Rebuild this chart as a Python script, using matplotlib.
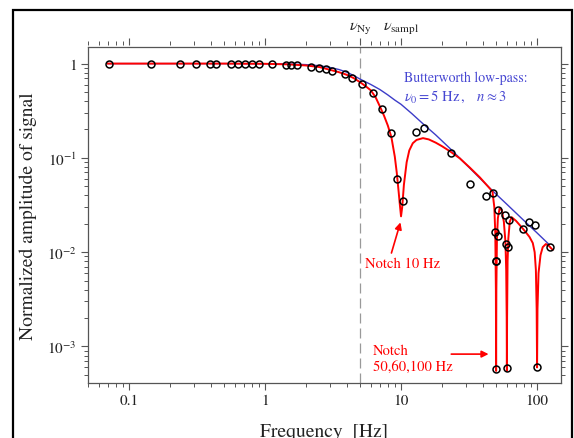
import numpy as np
import matplotlib
matplotlib.use('Agg')
import matplotlib.pyplot as plt
from matplotlib.patches import Rectangle

plt.rcParams['font.family'] = 'STIXGeneral'
plt.rcParams['mathtext.fontset'] = 'stix'

# == measured points (frequency in Hz, normalized amplitude) ==
freq_pts = [0.0714, 0.146, 0.236, 0.313, 0.397, 0.434, 0.560, 0.634, 0.713, 0.803,
            0.904, 1.126, 1.42, 1.56, 1.72, 2.17, 2.48, 2.79, 3.13, 3.90,
            4.39, 5.14, 6.22, 7.24, 8.39, 9.40, 10.4, 12.8, 14.7, 23.3,
            32.1, 42.4, 47.7, 49.0, 49.6, 49.6, 50.2, 51.3, 51.9, 58.0,
            59.4, 60.4, 61.4, 62.0, 78.2, 86.6, 95.9, 100.0, 125.0]
amp_pts = [1.0, 1.0, 1.0, 1.0, 1.0, 1.0, 1.0, 1.0, 1.0, 1.0,
           1.0, 0.985, 0.965, 0.96, 0.96, 0.929, 0.898, 0.877, 0.834, 0.769,
           0.710, 0.613, 0.483, 0.332, 0.185, 0.060, 0.035, 0.187, 0.209, 0.113,
           0.0524, 0.0397, 0.0425, 0.0162, 0.0080, 0.00058, 0.0080, 0.0147, 0.0282, 0.0245,
           0.0123, 0.00059, 0.0113, 0.0221, 0.0178, 0.0211, 0.0195, 0.00061, 0.0113]

# == filter model with notches (red) ==
red_f = [0.07, 0.5, 1.0, 1.5, 2.0, 2.5, 3.0, 3.5, 4.0, 4.5,
         5.0, 5.5, 6.0, 6.5, 7.0, 7.5, 8.0, 8.5, 9.0, 9.3,
         9.6, 9.8, 10.0, 10.2, 10.5, 11.0, 11.5, 12.2, 13.0, 14.5,
         16.0, 18.0, 20.0, 23.0, 27.0, 32.0, 38.0, 44.0, 47.0, 48.5,
         49.3, 49.8, 50.0, 50.2, 50.7, 51.5, 53.0, 55.0, 57.0, 58.5,
         59.3, 59.8, 60.0, 60.2, 60.7, 61.5, 63.0, 65.0, 70.0, 76.0,
         82.0, 88.0, 93.0, 96.0, 98.0, 99.3, 100.0, 100.7, 102.5, 106.0,
         110.0, 116.0, 122.0, 130.0]
red_a = [1.0, 1.0, 0.995, 0.98, 0.955, 0.92, 0.86, 0.81, 0.76, 0.70,
         0.635, 0.575, 0.52, 0.44, 0.35, 0.28, 0.22, 0.165, 0.103, 0.070,
         0.044, 0.032, 0.024, 0.030, 0.052, 0.090, 0.120, 0.143, 0.155, 0.162,
         0.157, 0.145, 0.133, 0.117, 0.099, 0.079, 0.062, 0.049, 0.044, 0.030,
         0.016, 0.004, 0.00055, 0.004, 0.014, 0.023, 0.029, 0.028, 0.021, 0.013,
         0.0065, 0.002, 0.00055, 0.002, 0.008, 0.014, 0.021, 0.0235, 0.0215, 0.0188,
         0.0165, 0.0145, 0.0125, 0.010, 0.0065, 0.0025, 0.0006, 0.0025, 0.006, 0.0093,
         0.0113, 0.0122, 0.0117, 0.0106]

# == Butterworth curve (blue) ==
blue_f = [0.07, 0.5, 1.0, 1.5, 2.0, 2.5, 3.0, 3.5, 4.0, 4.5,
          5.0, 6.0, 7.0, 8.0, 9.0, 10.0, 12.0, 14.7, 18.0, 23.3,
          30.0, 38.0, 47.5, 60.0, 81.0, 100.0, 123.0]
blue_a = [1.0, 1.0, 0.997, 0.99, 0.975, 0.95, 0.91, 0.865, 0.81, 0.745,
          0.685, 0.60, 0.53, 0.465, 0.41, 0.37, 0.295, 0.226, 0.175, 0.123,
          0.0855, 0.0608, 0.0442, 0.0322, 0.0213, 0.0160, 0.0120]

xticks = [0.1, 1, 10, 100]
xtick_labels = ['0.1', '1', '10', '100']
yticks = [1, 1e-1, 1e-2, 1e-3]
ytick_labels = ['1', r'$10^{-1}$', r'$10^{-2}$', r'$10^{-3}$']
top_ticks = [0.1, 1, 5, 10, 100]
top_labels = ['', '', r'$\nu_{\rm Ny}$', r'$\nu_{\rm sampl}$', '']

spine_col = '#555555'
blue_txt = '#4646d2'

fig = plt.figure(figsize=(5.74, 4.39), dpi=100)
ax = fig.add_axes([0.1533, 0.1253, 0.8241, 0.7654])

ax.axvline(5, color='#999999', lw=0.9, ls=(0, (8, 4)), zorder=1)
ax.plot(blue_f, blue_a, color='#3c3cc8', lw=1.0, zorder=2)
ax.plot(red_f, red_a, color='red', lw=1.4, zorder=3)
ax.plot(freq_pts, amp_pts, 'o', mfc='none', mec='black', mew=1.1, ms=5, zorder=4)

ax.set_xscale('log')
ax.set_yscale('log')
ax.set_xlim(0.05, 150)
ax.set_ylim(4.1e-4, 1.5)
ax.set_xticks(xticks, xtick_labels)
ax.set_yticks(yticks, ytick_labels)
ax.tick_params(which='both', direction='out', top=False, right=True,
               colors=spine_col, labelcolor='#222222', labelsize=11, pad=3)
ax.tick_params(which='major', length=5, width=0.8)
ax.tick_params(which='minor', length=3, width=0.7)
for s in ax.spines.values():
    s.set_color(spine_col)
    s.set_linewidth(0.9)

ax.set_xlabel('Frequency  [Hz]', fontsize=14, labelpad=11, color='#222222')
ax.set_ylabel('Normalized amplitude of signal', fontsize=14, labelpad=7, color='#222222')

# top axis with Nyquist / sampling frequency marks
ax2 = ax.twiny()
ax2.set_xscale('log')
ax2.set_xlim(ax.get_xlim())
ax2.set_xticks(top_ticks, top_labels)
for s in ax2.spines.values():
    s.set_visible(False)
ax2.spines['top'].set_position(('outward', 1.5))
ax2.tick_params(which='both', direction='out', colors=spine_col,
                labelcolor='#222222', labelsize=11.5, pad=2)
ax2.tick_params(which='major', length=5, width=0.8)
ax2.tick_params(which='minor', length=3, width=0.7)

ax.text(10.6, 0.72, 'Butterworth low-pass:', color=blue_txt, fontsize=10, va='center')
ax.text(10.6, 0.45, r'$\nu_0 = 5\ \mathrm{Hz}\,,\quad n \approx 3$', color=blue_txt,
        fontsize=10.5, va='center')

ax.text(10.2, 0.0077, 'Notch 10 Hz', color='red', fontsize=10.5,
        ha='center', va='center')
ax.annotate('', xy=(9.9, 0.0207), xytext=(8.5, 0.0098),
            arrowprops=dict(arrowstyle='-|>', color='red', lw=1.2, mutation_scale=10,
                            shrinkA=0, shrinkB=0))
ax.text(6.2, 0.00074, 'Notch\n50,60,100 Hz', color='red', fontsize=10.5,
        va='center', ha='left', linespacing=1.3)
ax.annotate('', xy=(44, 0.00083), xytext=(23.4, 0.00083),
            arrowprops=dict(arrowstyle='-|>', color='red', lw=1.2, mutation_scale=10,
                            shrinkA=0, shrinkB=0))

# outer frame, open at the bottom
fig.add_artist(Rectangle((0.0226, -0.1), 0.974, 1.075, transform=fig.transFigure,
                         fill=False, ec='black', lw=1.6))

fig.savefig('out.png', dpi=100)
